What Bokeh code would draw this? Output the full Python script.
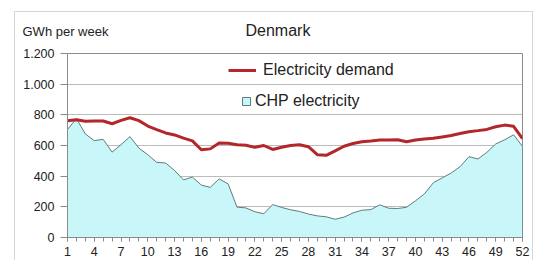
from bokeh.plotting import figure
from bokeh.models import ColumnDataSource, FixedTicker, Legend, LegendItem, Label, Range1d
from bokeh.embed import file_html
from bokeh.resources import INLINE

# ---- data ----
weeks = list(range(1, 53))
electricity_demand = [762, 768, 758, 760, 760, 742, 764, 781, 762, 727,
                      703, 682, 669, 648, 630, 572, 578, 617, 615, 605,
                      602, 588, 600, 574, 589, 600, 605, 592, 540, 536,
                      565, 595, 613, 625, 630, 636, 636, 638, 625, 636,
                      643, 647, 656, 665, 678, 690, 697, 705, 722, 733,
                      725, 645]
chp_electricity = [705, 776, 675, 632, 640, 557, 605, 658, 583, 540,
                   490, 486, 437, 376, 394, 342, 327, 382, 350, 198,
                   193, 168, 155, 215, 196, 181, 170, 153, 141, 135,
                   119, 133, 160, 178, 182, 213, 191, 189, 197, 239,
                   284, 357, 389, 420, 462, 527, 512, 555, 610, 637,
                   670, 594]
y_ticks = [0, 200, 400, 600, 800, 1000, 1200]
y_tick_labels = ["0", "200", "400", "600", "800", "1.000", "1.200"]
x_ticks = list(range(1, 53, 3))
title_text = "Denmark"
unit_text = "GWh per week"
series_names = ["Electricity demand", "CHP electricity"]

FONT = "Liberation Sans"
RED = "#b3262a"
CYAN = "#c9f7f9"
AREA_LINE = "#5f7c7c"
TXT = "#222222"

src = ColumnDataSource(dict(week=weeks, demand=electricity_demand, chp=chp_electricity))
# closed polygon for the CHP area (data, then back along zero)
area_src = ColumnDataSource(dict(x=weeks + weeks[::-1],
                                 y=chp_electricity + [0] * len(weeks)))

p = figure(width=519, height=249, x_range=Range1d(1, 52), y_range=Range1d(0, 1200),
           output_backend="svg", toolbar_location=None,
           min_border_left=52, min_border_right=12, min_border_top=41, min_border_bottom=24)
p.margin = (11, 0, 0, 14)
p.styles = {"border-top": "1px solid #d6d6d6", "border-left": "1px solid #d6d6d6",
            "border-right": "1px solid #d6d6d6"}
p.outline_line_color = "#8a8a8a"
p.outline_line_width = 1

# axes
p.yaxis.ticker = FixedTicker(ticks=y_ticks)
p.yaxis.major_label_overrides = {t: l for t, l in zip(y_ticks, y_tick_labels)}
p.yaxis.major_tick_out = 7
p.yaxis.major_tick_in = 0
p.yaxis.major_label_standoff = 6
p.xaxis.ticker = FixedTicker(ticks=x_ticks, minor_ticks=weeks)
p.xaxis.major_tick_out = 4
p.xaxis.major_tick_in = 0
p.xaxis.minor_tick_out = 4
p.xaxis.minor_tick_in = 0
p.xaxis.major_label_standoff = 5
for ax in (p.xaxis, p.yaxis):
    ax.axis_line_color = "#8a8a8a"
    ax.major_tick_line_color = "#8a8a8a"
    ax.minor_tick_line_color = "#8a8a8a"
    ax.major_label_text_font = FONT
    ax.major_label_text_font_size = "12.5px"
    ax.major_label_text_color = TXT
p.yaxis.minor_tick_line_color = None

p.xgrid.grid_line_color = None
p.ygrid.ticker = FixedTicker(ticks=y_ticks)
p.ygrid.grid_line_color = "#bcbcbc"

# data
area = p.patch(x="x", y="y", source=area_src, fill_color=CYAN,
               line_color=AREA_LINE, line_width=1)
dline = p.line(x="week", y="demand", source=src, line_color=RED, line_width=3)

leg1 = Legend(items=[LegendItem(label=series_names[0], renderers=[dline])],
              location=(161, 157), padding=0, margin=0, glyph_width=28, glyph_height=20,
              label_height=20, label_standoff=7, border_line_alpha=0, background_fill_alpha=0,
              label_text_font=FONT, label_text_font_size="16px", label_text_color=TXT)
leg2 = Legend(items=[LegendItem(label=series_names[1], renderers=[area])],
              location=(174, 127), padding=0, margin=0, glyph_width=10, glyph_height=10,
              label_height=10, label_standoff=4, border_line_alpha=0, background_fill_alpha=0,
              label_text_font=FONT, label_text_font_size="16px", label_text_color=TXT)
p.add_layout(leg1)
p.add_layout(leg2)

# texts above the plot frame (side panels, so they are not clipped to the frame)
p.add_layout(Label(x=-45, y=22.5, x_units="screen", y_units="screen", text=unit_text,
                   text_font=FONT, text_font_size="13px", text_color=TXT,
                   text_baseline="middle"), "above")
p.add_layout(Label(x=178, y=8, x_units="screen", y_units="screen", text=title_text,
                   text_font=FONT, text_font_size="16px", text_color=TXT,
                   text_baseline="middle"), "above")

open("out.html", "w").write(file_html(p, INLINE))
